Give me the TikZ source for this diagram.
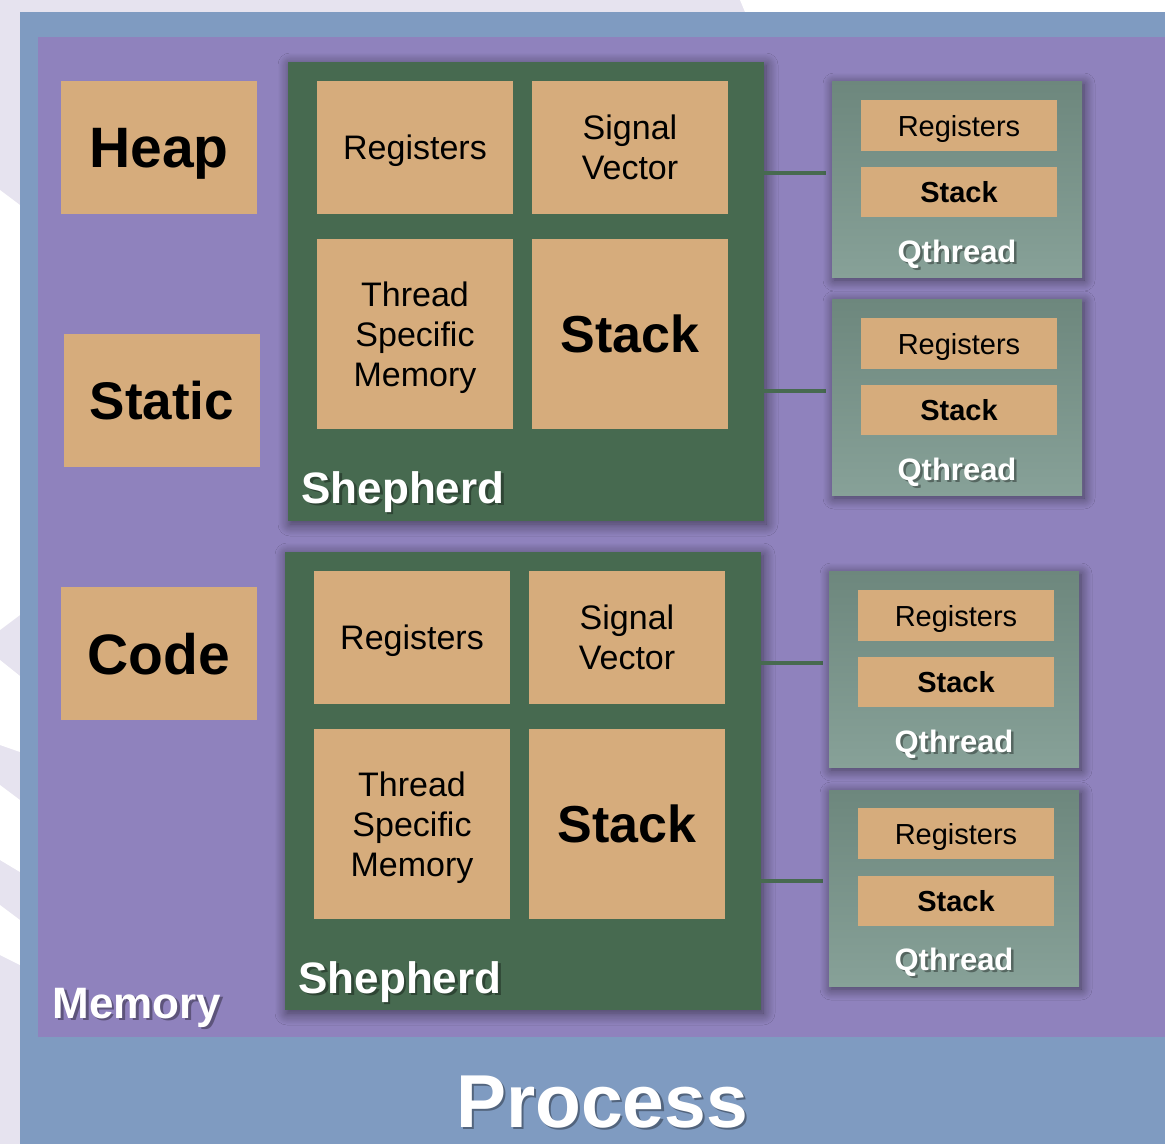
\documentclass[tikz,border=0pt]{standalone}
\usepackage{fontspec}
\setmainfont{Liberation Sans}
\usetikzlibrary{shadows.blur}

\definecolor{paleback}{HTML}{E6E3EF}
\definecolor{procblue}{HTML}{7F9BC1}
\definecolor{mempurple}{HTML}{8F82BD}
\definecolor{shepgreen}{HTML}{476A50}
\definecolor{qtop}{HTML}{6D877D}
\definecolor{qbottom}{HTML}{87A198}
\definecolor{tanbox}{HTML}{D6AC7C}

% white label with a soft dark copy underneath: name, x, y, anchor, text
\newcommand{\liftlabel}[5]{%
  \node[anchor=#4, text=black, opacity=0.35] at (#2+2.5,#3+2.5) {#5};
  \node[anchor=#4, text=white] (#1) at (#2,#3) {#5};}

\begin{document}
\begin{tikzpicture}[x=1pt, y=-1pt,
    part/.style={fill=tanbox, inner sep=0pt, align=center, text depth=0pt},
    bigpart/.style={part, minimum width=196pt, minimum height=133pt,
      font=\fontsize{57}{60}\selectfont\bfseries},
    cell/.style={part, minimum width=196pt,
      font=\fontsize{34}{40}\selectfont},
    qcell/.style={part, minimum width=196pt,
      font=\fontsize{29}{32}\selectfont},
    shep/.style={fill=shepgreen, inner sep=0pt, minimum width=476pt,
      minimum height=459pt,
      blur shadow={shadow xshift=2pt, shadow yshift=-3pt,
        shadow blur radius=12pt, shadow blur steps=12, shadow opacity=55}},
    qbox/.style={top color=qtop, bottom color=qbottom, draw=none,
      inner sep=0pt, minimum width=250pt, minimum height=196pt,
      blur shadow={shadow xshift=2pt, shadow yshift=-3pt,
        shadow blur radius=11pt, shadow blur steps=12, shadow opacity=55}},
    link/.style={draw=shepgreen, line width=4pt}]

  \useasboundingbox (0,0) rectangle (1165,1144);

  % slide background
  \fill[paleback] (0,0) rectangle (1165,1144);
  \fill[white] (740,0) -- (1165,0) -- (1165,12) -- (745,12) -- cycle;
  \fill[white] (0,190) -- (20,205) -- (20,615) -- (0,630) -- cycle;
  \fill[white] (0,660) -- (20,676) -- (20,752) -- (0,745) -- cycle;
  \fill[white] (0,785) -- (20,800) -- (20,872) -- (0,860) -- cycle;
  \fill[white] (0,905) -- (20,920) -- (20,965) -- (0,955) -- cycle;

  % process and memory areas
  \fill[procblue] (20,12) rectangle (1165,1144);
  \fill[mempurple] (38,37) rectangle (1165,1037);

  % shared memory
  \node[bigpart] (heap) at (159,147.5) {Heap};
  \node[bigpart, font=\fontsize{53}{56}\selectfont\bfseries] (static) at (162,400.5) {Static};
  \node[bigpart] (code) at (159,653.5) {Code};

  % first shepherd
  \node[shep] (shep1) at (526,291.5) {};
  \node[cell, minimum height=133pt] (reg1) at (415,147.5) {Registers};
  \node[cell, minimum height=133pt] (sig1) at (630,147.5) {Signal\\Vector};
  \node[cell, minimum height=190pt] (tsm1) at (415,334) {Thread\\Specific\\Memory};
  \node[cell, minimum height=190pt, font=\fontsize{52}{56}\selectfont\bfseries] (stk1) at (630,334) {Stack};
  \liftlabel{shep1lbl}{298}{503}{base west}{\fontsize{44}{48}\selectfont\bfseries Shepherd}

  % second shepherd
  \node[shep, minimum height=458pt] (shep2) at (523,781) {};
  \node[cell, minimum height=133pt] (reg2) at (412,637.5) {Registers};
  \node[cell, minimum height=133pt] (sig2) at (627,637.5) {Signal\\Vector};
  \node[cell, minimum height=190pt] (tsm2) at (412,824) {Thread\\Specific\\Memory};
  \node[cell, minimum height=190pt, font=\fontsize{52}{56}\selectfont\bfseries] (stk2) at (627,824) {Stack};
  \liftlabel{shep2lbl}{295}{993}{base west}{\fontsize{44}{48}\selectfont\bfseries Shepherd}

  % links to the qthreads
  \coordinate (q1in) at (826,173);
  \coordinate (q2in) at (826,391);
  \coordinate (q3in) at (823,663);
  \coordinate (q4in) at (823,881);
  \draw[link] (shep1.east |- q1in) -- (q1in);
  \draw[link] (shep1.east |- q2in) -- (q2in);
  \draw[link] (shep2.east |- q3in) -- (q3in);
  \draw[link] (shep2.east |- q4in) -- (q4in);

  % qthreads
  \node[qbox] (q1) at (957,179) {};
  \node[qcell, minimum height=51pt] (q1reg) at (959,125.5) {Registers};
  \node[qcell, minimum height=50pt, font=\fontsize{29}{32}\selectfont\bfseries] (q1stk) at (959,192) {Stack};
  \liftlabel{q1lbl}{957}{262}{base}{\fontsize{31}{34}\selectfont\bfseries Qthread}

  \node[qbox] (q2) at (957,397) {};
  \node[qcell, minimum height=51pt] (q2reg) at (959,343.5) {Registers};
  \node[qcell, minimum height=50pt, font=\fontsize{29}{32}\selectfont\bfseries] (q2stk) at (959,410) {Stack};
  \liftlabel{q2lbl}{957}{480}{base}{\fontsize{31}{34}\selectfont\bfseries Qthread}

  \node[qbox] (q3) at (954,669) {};
  \node[qcell, minimum height=51pt] (q3reg) at (956,615.5) {Registers};
  \node[qcell, minimum height=50pt, font=\fontsize{29}{32}\selectfont\bfseries] (q3stk) at (956,682) {Stack};
  \liftlabel{q3lbl}{954}{752}{base}{\fontsize{31}{34}\selectfont\bfseries Qthread}

  \node[qbox] (q4) at (954,888) {};
  \node[qcell, minimum height=51pt] (q4reg) at (956,833.5) {Registers};
  \node[qcell, minimum height=50pt, font=\fontsize{29}{32}\selectfont\bfseries] (q4stk) at (956,900.5) {Stack};
  \liftlabel{q4lbl}{954}{970}{base}{\fontsize{31}{34}\selectfont\bfseries Qthread}

  % area captions
  \liftlabel{memlbl}{49}{1018}{base west}{\fontsize{44}{48}\selectfont\bfseries Memory}
  \liftlabel{proclbl}{602}{1127}{base}{\fontsize{75}{80}\selectfont\bfseries Process}
\end{tikzpicture}
\end{document}
